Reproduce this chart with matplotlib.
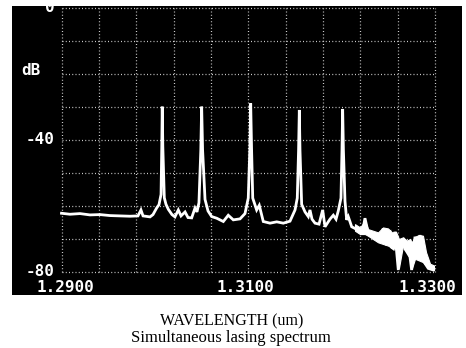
import numpy as np
import matplotlib
matplotlib.use("Agg")
import matplotlib.pyplot as plt
from matplotlib.transforms import blended_transform_factory

# ---------------- data ----------------
x_ticks = [1.2900, 1.3100, 1.3300]
x_tick_labels = ["1.2900", "1.3100", "1.3300"]
y_ticks = [0, -40, -80]
y_tick_labels = ["0", "-40", "-80"]
y_unit = "dB"
x_title = "WAVELENGTH (um)"
caption = "Simultaneous lasing spectrum"

wavelength_um = [
    1.29000, 1.29091, 1.29198, 1.29305, 1.29412, 1.29519, 1.29626, 1.29734,
    1.29819, 1.29851, 1.29873, 1.29948, 1.29980, 1.30019, 1.30044, 1.30066,
    1.30074, 1.30079, 1.30085, 1.30101, 1.30119, 1.30144, 1.30183, 1.30215,
    1.30251, 1.30280, 1.30323, 1.30355, 1.30394, 1.30430, 1.30451, 1.30472,
    1.30492, 1.30501, 1.30511, 1.30537, 1.30569, 1.30608,
    1.30662, 1.30733, 1.30786, 1.30840, 1.30912, 1.30965, 1.31000, 1.31018,
    1.31026, 1.31035, 1.31048, 1.31090, 1.31118, 1.31161, 1.31233, 1.31305,
    1.31375, 1.31447, 1.31501, 1.31525, 1.31539, 1.31547, 1.31554, 1.31572,
    1.31608, 1.31643, 1.31661, 1.31683, 1.31715, 1.31758, 1.31797, 1.31822,
    1.31875, 1.31911, 1.31940, 1.31964, 1.31993, 1.32004, 1.32011, 1.32019,
    1.32036, 1.32054, 1.32071,
    1.32108, 1.32143, 1.32197, 1.32229, 1.32250, 1.32286, 1.32339, 1.32376,
    1.32411, 1.32446, 1.32464, 1.32483, 1.32502, 1.32518, 1.32534, 1.32553,
    1.32571, 1.32588, 1.32607, 1.32625, 1.32660, 1.32678, 1.32697, 1.32732,
    1.32750, 1.32767, 1.32786, 1.32804, 1.32823, 1.32839, 1.32868, 1.32893,
    1.32928, 1.32982,
]
power_db = [
    -62.2, -62.5, -62.3, -62.7, -62.6, -62.9, -63.0, -63.1,
    -63.0, -61.2, -63.0, -63.3, -62.6, -60.6, -59.6, -56.5,
    -42.0, -29.9, -42.0, -57.5, -59.5, -61.0, -62.6, -63.3,
    -61.2, -63.0, -61.8, -63.5, -63.6, -60.6, -61.8, -59.0,
    -43.0, -29.9, -43.0, -58.0, -61.5, -63.2,
    -63.7, -64.7, -62.8, -64.2, -63.9, -62.3, -57.6, -42.0,
    -28.9, -42.0, -57.6, -61.2, -59.8, -64.7, -65.2, -64.8,
    -65.2, -64.6, -61.2, -57.6, -43.0, -30.9, -43.0, -59.5,
    -61.8, -63.2, -61.2, -64.0, -65.2, -65.5, -61.2, -66.3,
    -64.0, -62.8, -64.0, -61.5, -57.6, -43.0, -30.6, -43.0,
    -58.5, -64.2, -63.2,
    -66.3, -66.8, -67.8, -67.0, -63.7, -68.3, -68.8, -69.3,
    -70.0, -66.8, -71.0, -71.8, -68.0, -67.8, -72.5, -72.9,
    -67.8, -73.5, -79.4, -71.3, -70.3, -73.0, -73.8, -75.4,
    -79.4, -74.0, -69.3, -75.8, -74.0, -68.8, -75.8, -77.4,
    -78.9, -79.4,
]

# noisy long-wavelength tail: upper / lower envelope of the filled noise band
tail_wl = [1.32143, 1.32197, 1.32250, 1.32282, 1.32336, 1.32390, 1.32443,
           1.32497, 1.32539, 1.32582, 1.32614, 1.32657, 1.32700, 1.32732,
           1.32754, 1.32786, 1.32829, 1.32871, 1.32904, 1.32947, 1.32989]
tail_upper = [-65.5, -66.5, -64.5, -67.0, -67.5, -68.0, -66.5,
              -66.8, -68.0, -67.8, -70.0, -69.5, -70.5, -70.0,
              -71.0, -69.3, -68.8, -69.0, -74.0, -77.5, -78.0]
tail_lower = [-67.5, -68.5, -68.5, -69.0, -70.0, -71.0, -71.5,
              -72.0, -72.7, -73.0, -78.8, -72.0, -74.0, -76.0,
              -78.8, -76.0, -76.5, -77.0, -78.0, -78.9, -79.4]

x_min, x_max, x_step = 1.29, 1.33, 0.004
y_min, y_max, y_step = -80, 0, 10

# ---------------- figure ----------------
W, H = 466, 348
fig = plt.figure(figsize=(W / 100, H / 100), dpi=100)
fig.patch.set_facecolor("white")

def fx(px):
    return px / W

def fy(py):
    return (H - py) / H

# black screen panel
bg = fig.add_axes([fx(12), fy(295), fx(462) - fx(12), fy(6) - fy(295)])
bg.set_facecolor("black")
bg.set_xticks([]); bg.set_yticks([])
for s in bg.spines.values():
    s.set_visible(False)

# data axes
ax = fig.add_axes([fx(61.5), fy(272), fx(435) - fx(61.5), fy(8) - fy(272)])
ax.set_facecolor("none")
ax.set_xlim(x_min, x_max)
ax.set_ylim(y_min, y_max)
ax.set_xticks([]); ax.set_yticks([])
for s in ax.spines.values():
    s.set_visible(False)

dot = (0, (0.8, 1.8))
for xv in np.arange(x_min, x_max + x_step / 2, x_step):
    ax.axvline(xv, color="white", lw=0.9, linestyle=dot, alpha=0.8, clip_on=False)
for yv in np.arange(y_min, y_max + y_step / 2, y_step):
    ax.axhline(yv, color="white", lw=0.9, linestyle=dot, alpha=0.8, clip_on=False)

ax.fill_between(tail_wl, tail_lower, tail_upper, color="white", lw=0.8,
                edgecolor="white", clip_on=False)
ax.plot(wavelength_um, power_db, color="white", lw=2.0, clip_on=False,
        solid_joinstyle="miter")

mono = dict(family="DejaVu Sans Mono", weight="bold", color="white", fontsize=11.5)

ty = blended_transform_factory(fig.transFigure, ax.transData)
for v, lab in zip(y_ticks, y_tick_labels):
    ax.text(fx(55), v, lab, transform=ty, ha="right", va="center", **mono)
ax.text(fx(21), -19, y_unit, transform=ty, ha="left", va="center", **mono)

x_pos = [(fx(37), "left"), (fx(245), "center"), (fx(456), "right")]
for (xp, ha), lab in zip(x_pos, x_tick_labels):
    fig.text(xp, fy(287), lab, ha=ha, va="center", **mono)

fig.text(fx(232), fy(321), x_title, ha="center", va="center",
         family="Liberation Serif", fontsize=11.5, color="black")
fig.text(fx(231), fy(338), caption, ha="center", va="center",
         family="Liberation Serif", fontsize=12, color="black")

fig.savefig("out.png", dpi=100, facecolor="white")
